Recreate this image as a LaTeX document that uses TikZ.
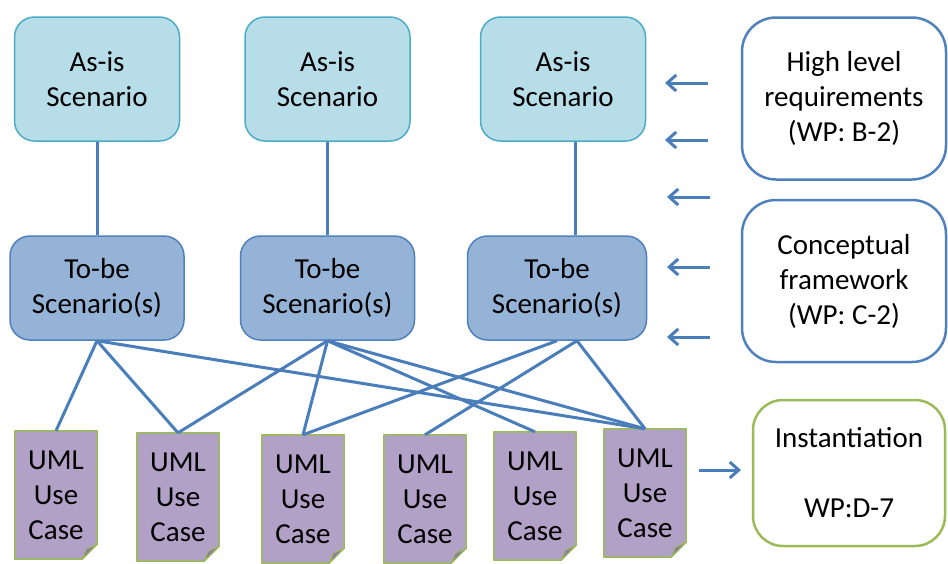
\documentclass[tikz,border=0pt]{standalone}
\usepackage{fontspec}
\setmainfont{Carlito}
\usetikzlibrary{arrows.meta,backgrounds,calc}

\definecolor{asisfill}{HTML}{B7DEE8}
\definecolor{asisline}{HTML}{4BACC6}
\definecolor{tobefill}{HTML}{95B3D7}
\definecolor{tobeline}{HTML}{4F81BD}
\definecolor{linkblue}{HTML}{4A7EBB}
\definecolor{docfill}{HTML}{B2A1C7}
\definecolor{docline}{HTML}{9BBB59}
\definecolor{docfold}{HTML}{8E7BA6}
\definecolor{inputline}{HTML}{4F81BD}
\definecolor{outputline}{HTML}{9BBB59}

% A use-case document: name, centre x, top y
\newcommand\usecasedoc[3]{%
  \node[doc] (#1) at (#2,#3+64) {UML\\Use\\Case};
  \begin{scope}[on background layer]
    \draw[docline, fill=docfill, line width=1.5pt, line join=round]
      (#1.north west) -- (#1.north east) -- ([yshift=15pt]#1.south east)
      -- ([xshift=-15pt]#1.south east) -- (#1.south west) -- cycle;
    \draw[docline, fill=docfold, line width=1pt, line join=round]
      ([yshift=15pt]#1.south east) -- ([xshift=-15pt]#1.south east)
      -- ([xshift=-11pt,yshift=10pt]#1.south east) -- cycle;
  \end{scope}
}

\begin{document}
\begin{tikzpicture}[x=1pt,y=-1pt,
  every node/.style={font=\fontsize{29}{35}\selectfont, align=center, inner sep=0pt},
  asis/.style={draw=asisline, fill=asisfill, line width=1.5pt, rounded corners=20pt,
    minimum width=165pt, minimum height=124pt},
  tobe/.style={draw=tobeline, fill=tobefill, line width=1.5pt, rounded corners=20pt,
    minimum width=174pt, minimum height=104pt},
  doc/.style={minimum width=82pt, minimum height=128pt},
  source/.style={draw=inputline, line width=2.5pt, rounded corners=34pt,
    minimum width=204pt, minimum height=162pt},
  target/.style={draw=outputline, line width=2.5pt, rounded corners=30pt,
    minimum width=192pt, minimum height=146pt},
  link/.style={draw=linkblue, line width=3pt},
  feed/.style={draw=linkblue, line width=3pt, -{Straight Barb[length=9pt,width=16pt]}}
]
\useasboundingbox (0,0) rectangle (948,563);
\begin{scope}[on background layer]
  \fill[white] (0,0) rectangle (948,563);
\end{scope}

% As-is scenarios
\node[asis] (a1) at (97,79)  {As-is\\Scenario};
\node[asis] (a2) at (327.5,79) {As-is\\Scenario};
\node[asis] (a3) at (563,79) {As-is\\Scenario};

% To-be scenarios
\node[tobe] (t1) at (97,288)  {To-be\\Scenario(s)};
\node[tobe] (t2) at (327.5,288) {To-be\\Scenario(s)};
\node[tobe, minimum width=179pt] (t3) at (557,288) {To-be\\Scenario(s)};

% Inputs and output
\node[source] (hlr) at (844,98.5) {High level\\requirements\\(WP: B-2)};
\node[source] (cf)  at (844,281)  {Conceptual\\framework\\(WP: C-2)};
\node[target] (inst) at (849,473) {Instantiation\\[35pt]WP:D-7};

% Use cases
\usecasedoc{u1}{56}{431}
\usecasedoc{u2}{178}{433}
\usecasedoc{u3}{303}{435}
\usecasedoc{u4}{425}{435}
\usecasedoc{u5}{535}{432}
\usecasedoc{u6}{645}{429}

% As-is to To-be
\draw[link] (a1.south) -- (t1.north);
\draw[link] (a2.south) -- (t2.north);
\draw[link] ([xshift=12pt]a3.south) -- ([xshift=18pt]t3.north);

% To-be to use cases
\draw[link] (t1.south) -- (u1.north);
\draw[link] (t1.south) -- (u2.north);
\draw[link] (t1.south) -- (u6.north);
\draw[link] (t2.south) -- (u2.north);
\draw[link] (t2.south) -- (u3.north);
\draw[link] (t2.south) -- (u5.north);
\draw[link] (t2.south) -- (u6.north);
\draw[link] (t3.south) -- (u3.north);
\draw[link] ([xshift=20pt]t3.south) -- (u4.north);
\draw[link] ([xshift=20pt]t3.south) -- (u6.north);

% Input arrows
\coordinate (s1) at (708,83);  \coordinate (e1) at (665,83);
\coordinate (s2) at (708,140); \coordinate (e2) at (665,140);
\coordinate (s3) at (710,197); \coordinate (e3) at (667,197);
\coordinate (s4) at (710,267); \coordinate (e4) at (667,267);
\coordinate (s5) at (710,337); \coordinate (e5) at (667,337);
\foreach \i in {1,...,5} { \draw[feed] (s\i) -- (e\i); }

% Output arrow
\coordinate (o1) at (699,470); \coordinate (o2) at (741,470);
\draw[feed] (o1) -- (o2);
\end{tikzpicture}
\end{document}
